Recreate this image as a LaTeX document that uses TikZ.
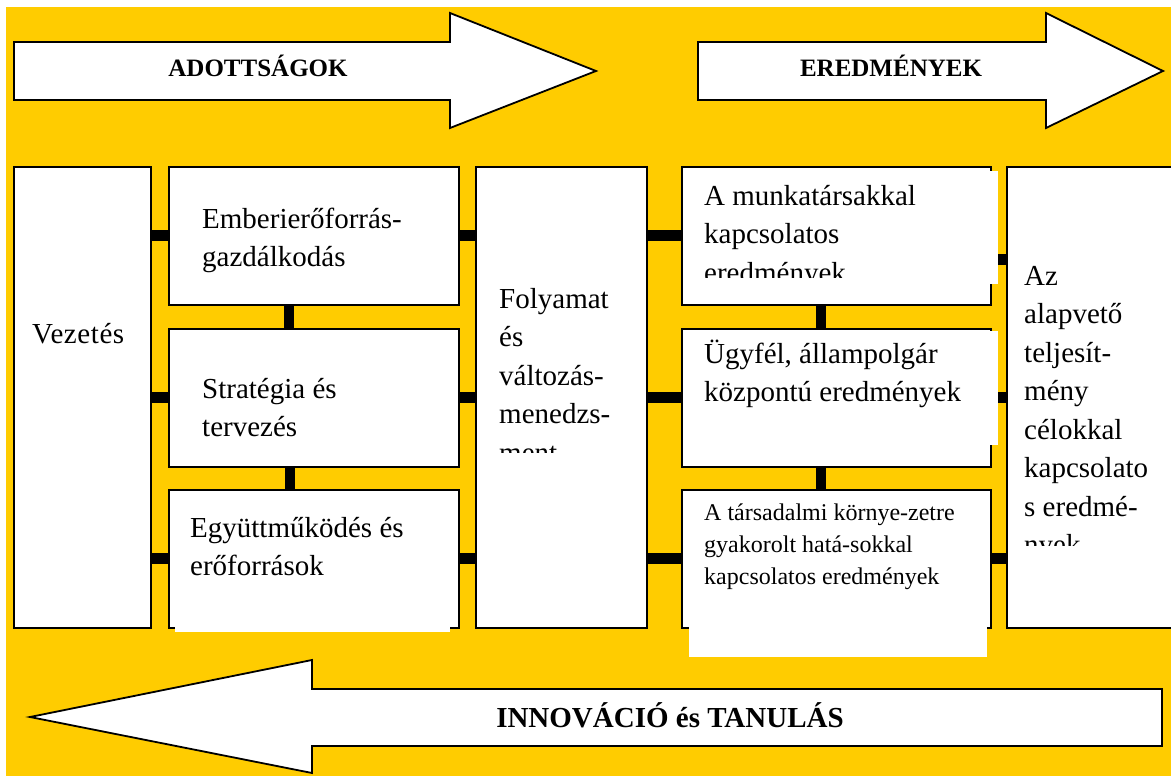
\documentclass[tikz,border=0pt]{standalone}
\usepackage{fontspec}
\setmainfont{Liberation Serif}
\definecolor{bgyellow}{RGB}{255,204,0}
\begin{document}
\begin{tikzpicture}[x=1pt,y=-1pt,
  box/.style={draw=black, line width=1.6pt, fill=white, inner sep=0pt, anchor=north west},
  hbar/.style={line width=11pt, black},
  vbar/.style={line width=10pt, black},
  bigarrow/.style={draw=black, line width=1.8pt, fill=white, line join=miter},
  txt/.style={font=\fontsize{29}{38.5}\selectfont, inner sep=0pt, anchor=base west},
  smalltxt/.style={font=\fontsize{24}{32}\selectfont, inner sep=0pt, anchor=base west},
  headtxt/.style={font=\fontsize{25}{30}\selectfont\bfseries, inner sep=0pt, anchor=base},
  overlay/.style={fill=white}]
\clip (0,0) rectangle (1171,776);
\fill[bgyellow] (6,7) rectangle (1171,776);
% big arrows
\draw[bigarrow] (14,42) -- (450,42) -- (450,13) -- (596,71) -- (450,128) -- (450,100) -- (14,100) -- cycle;
\draw[bigarrow] (698,42) -- (1046,42) -- (1046,13) -- (1163,71) -- (1046,128) -- (1046,100) -- (698,100) -- cycle;
\draw[bigarrow] (1162,689) -- (312,689) -- (312,660) -- (30,717) -- (312,773) -- (312,746) -- (1162,746) -- cycle;
\node[headtxt] (adott) at (258,77) {ADOTTSÁGOK};
\node[headtxt] (ered) at (891,77) {EREDMÉNYEK};
\node[headtxt, font=\fontsize{29}{32}\selectfont\bfseries] (innov) at (670,727) {INNOVÁCIÓ és TANULÁS};
% boxes
\node[box, minimum width=137, minimum height=461] (vez) at (13,166) {};
\node[box, minimum width=290, minimum height=138] (emb) at (168,166) {};
\node[box, minimum width=290, minimum height=138] (str) at (168,328) {};
\node[box, minimum width=290, minimum height=138] (egy) at (168,489) {};
\node[box, minimum width=171, minimum height=461] (fol) at (475,166) {};
\node[box, minimum width=309, minimum height=138] (mun) at (681,166) {};
\node[box, minimum width=309, minimum height=138] (ugy) at (681,328) {};
\node[box, minimum width=309, minimum height=138] (tar) at (681,489) {};
\node[box, minimum width=200, minimum height=461] (az) at (1006,166) {};
% connectors
\draw[hbar] (vez.east |- emb.west) -- (emb.west);
\draw[hbar] (vez.east |- str.west) -- (str.west);
\draw[hbar] (vez.east |- egy.west) -- (egy.west);
\draw[hbar] (emb.east) -- (emb.east -| fol.west);
\draw[hbar] (str.east) -- (str.east -| fol.west);
\draw[hbar] (egy.east) -- (egy.east -| fol.west);
\draw[hbar] (fol.east |- mun.west) -- (mun.west);
\draw[hbar] (fol.east |- ugy.west) -- (ugy.west);
\draw[hbar] (fol.east |- tar.west) -- (tar.west);
\draw[hbar] ([yshift=-24pt]mun.east) -- ([yshift=-24pt]mun.east -| az.west);
\draw[hbar] (ugy.east) -- (ugy.east -| az.west);
\draw[hbar] (tar.east) -- (tar.east -| az.west);
\draw[vbar] ([xshift=-25pt]emb.south) -- ([xshift=-25pt]emb.south |- str.north);
\draw[vbar] ([xshift=-24pt]str.south) -- ([xshift=-24pt]str.south |- egy.north);
\draw[vbar] ([xshift=-15pt]mun.south) -- ([xshift=-15pt]mun.south |- ugy.north);
\draw[vbar] ([xshift=-15pt]ugy.south) -- ([xshift=-15pt]ugy.south |- tar.north);
% white text-box overlays
\fill[overlay] (686,171) rectangle (998,284);
\fill[overlay] (686,331) rectangle (998,445);
\fill[overlay] (175,600) rectangle (450,632);
\fill[overlay] (689,600) rectangle (987,657);
% texts
\node[txt] (tvez) at (32,343) {\addfontfeature{LetterSpace=2}Vezetés};
\node[txt] (temb) at (202,228) {\vtop{\hbox{Emberierőforrás-}\hbox{gazdálkodás}}};
\node[txt] (tstr) at (202,398) {\vtop{\hbox{Stratégia és}\hbox{tervezés}}};
\node[txt] (tegy) at (190,537) {\vtop{\hbox{Együttműködés és}\hbox{erőforrások}}};
\begin{scope}
\clip (476,167) rectangle (645,452);
\node[txt] (tfol) at (499,308) {\vtop{\hbox{Folyamat}\hbox{és}\hbox{változás-}\hbox{menedzs-}\hbox{ment}}};
\end{scope}
\begin{scope}
\clip (682,167) rectangle (998,277);
\node[txt] (tmun) at (704,205) {\vtop{\hbox{A munkatársakkal}\hbox{kapcsolatos}\hbox{eredmények}}};
\end{scope}
\node[txt] (tugy) at (704,363) {\vtop{\hbox{Ügyfél, állampolgár}\hbox{központú eredmények}}};
\node[smalltxt] (ttar) at (704,520) {\vtop{\hbox{A társadalmi környe-zetre}\hbox{gyakorolt hatá-sokkal}\hbox{kapcsolatos eredmények}}};
\begin{scope}
\clip (1007,167) rectangle (1171,545);
\node[txt] (taz) at (1024,285) {\vtop{\hbox{Az}\hbox{alapvető}\hbox{teljesít-}\hbox{mény}\hbox{célokkal}\hbox{kapcsolato}\hbox{s eredmé-}\hbox{nyek}}};
\end{scope}
\end{tikzpicture}
\end{document}
